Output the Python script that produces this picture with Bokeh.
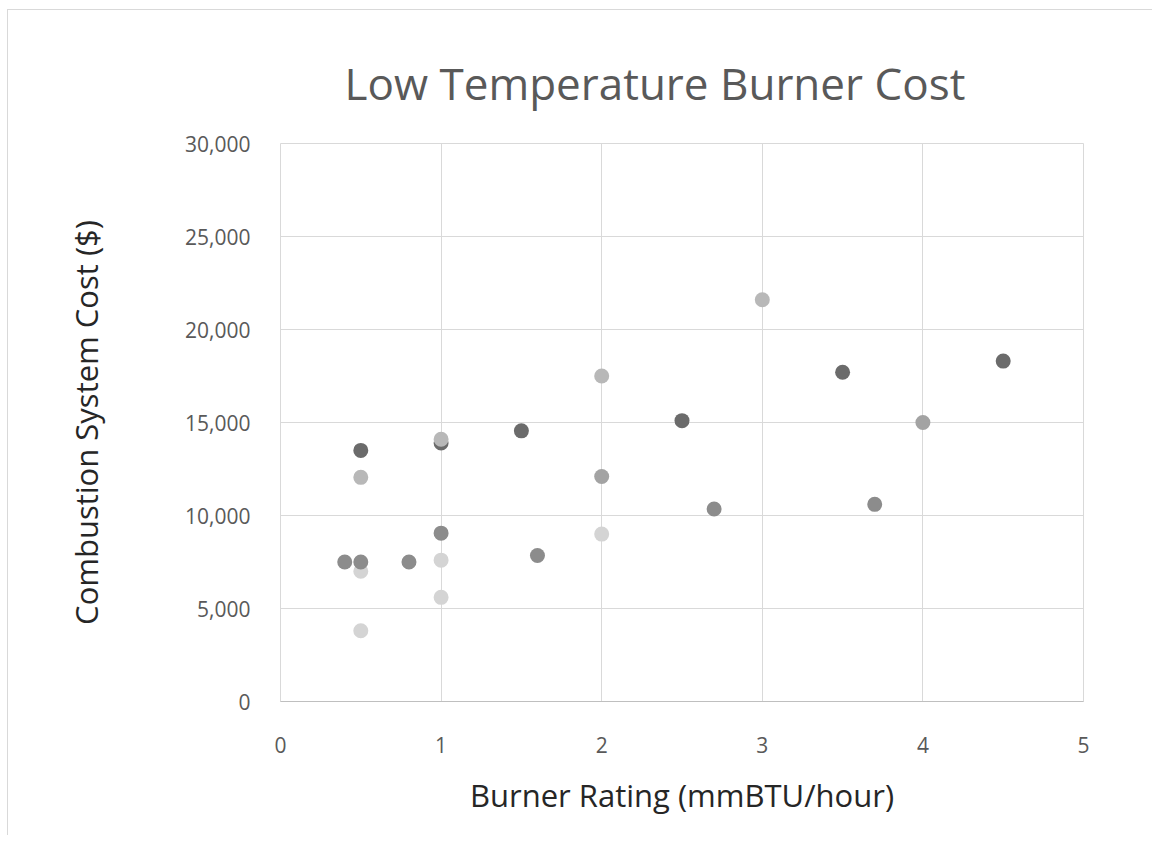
from bokeh.plotting import figure
from bokeh.models import FixedTicker, NumeralTickFormatter, Range1d
from bokeh.embed import file_html
from bokeh.resources import INLINE

# Data (x = burner rating mmBTU/hr, y = cost $)
vlight_x = [0.5, 0.5, 1.0, 1.0, 2.0]
vlight_y = [7000, 3800, 7600, 5600, 9000]

medium_x = [0.4, 0.5, 0.8, 1.0, 1.6, 2.7, 3.7]
medium_y = [7500, 7500, 7500, 9050, 7850, 10350, 10600]

midlight_x = [2.0, 4.0]
midlight_y = [12100, 15000]

dark_x = [0.5, 1.0, 1.5, 2.5, 3.5, 4.5]
dark_y = [13500, 13900, 14550, 15100, 17700, 18300]

light_x = [0.5, 1.0, 2.0, 3.0]
light_y = [12050, 14100, 17500, 21600]

x_ticks = [0, 1, 2, 3, 4, 5]
y_ticks = [0, 5000, 10000, 15000, 20000, 25000, 30000]

FONT = "Open Sans"

p = figure(width=1145, height=826, output_backend="svg", toolbar_location=None,
           x_range=Range1d(0, 5), y_range=Range1d(0, 30000),
           min_border_left=272, min_border_right=70,
           min_border_top=133, min_border_bottom=135,
           title="Low Temperature Burner Cost")

p.styles = {"margin-left": "7px", "margin-top": "9px",
            "border-top": "1px solid #d9d9d9", "border-left": "1px solid #d9d9d9"}

p.title.text_font = FONT
p.title.text_font_size = "44px"
p.title.text_font_style = "normal"
p.title.text_color = "#595959"
p.title.align = "left"
p.title.offset = 64
p.title.standoff = 62

p.outline_line_color = "#d9d9d9"
p.background_fill_color = "white"
p.border_fill_color = "white"

for g in (p.xgrid, p.ygrid):
    g.grid_line_color = "#d9d9d9"
    g.grid_line_width = 1

p.xaxis.ticker = FixedTicker(ticks=x_ticks)
p.yaxis.ticker = FixedTicker(ticks=y_ticks)
p.yaxis.formatter = NumeralTickFormatter(format="0,0")

for ax in (p.xaxis, p.yaxis):
    ax.major_tick_line_color = None
    ax.minor_tick_line_color = None
    ax.major_label_text_font = FONT
    ax.major_label_text_font_size = "21px"
    ax.major_label_text_color = "#595959"
    ax.axis_label_text_font = FONT
    ax.axis_label_text_font_size = "31px"
    ax.axis_label_text_font_style = "normal"
    ax.axis_label_text_color = "#262626"

p.xaxis.axis_line_color = "#bfbfbf"
p.yaxis.axis_line_color = None
p.xaxis.major_label_standoff = 29
p.yaxis.major_label_standoff = 24
p.xaxis.axis_label = "Burner Rating (mmBTU/hour)"
p.yaxis.axis_label = "Combustion System Cost ($)"
p.xaxis.axis_label_standoff = 18
p.yaxis.axis_label_standoff = 75

SZ = 15
p.scatter(vlight_x, vlight_y, size=SZ, color="#d4d4d4", line_color=None)
p.scatter(medium_x, medium_y, size=SZ, color="#8c8c8c", line_color=None)
p.scatter(midlight_x, midlight_y, size=SZ, color="#a3a3a3", line_color=None)
p.scatter(dark_x, dark_y, size=SZ, color="#6b6b6b", line_color=None)
p.scatter(light_x, light_y, size=SZ, color="#b8b8b8", line_color=None)

open("out.html", "w").write(file_html(p, INLINE))
